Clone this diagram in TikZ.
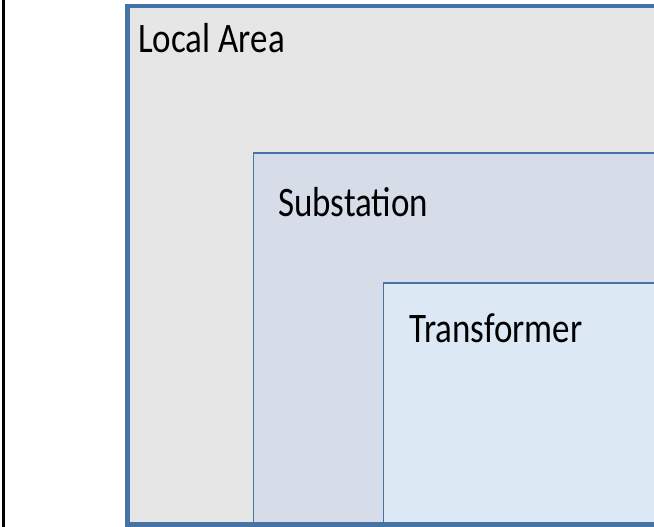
\documentclass[tikz,border=0pt]{standalone}
\usepackage{fontspec}
\setmainfont{Carlito}
\definecolor{frameblue}{HTML}{4673A6}
\definecolor{areagray}{HTML}{E6E6E6}
\definecolor{subfill}{HTML}{D6DDE8}
\definecolor{trafofill}{HTML}{DDE8F5}
\tikzset{
  levellabel/.style={anchor=base west, inner sep=0pt, font=\fontsize{35}{40}\selectfont,
    yscale=1.2, transform shape},
}
\begin{document}
\begin{tikzpicture}[x=1pt,y=-1pt]
  \useasboundingbox (0,0) rectangle (654,527);
  \fill[white] (0,0) rectangle (654,527);
  % left rule
  \draw[black, line width=3pt] (3,0) -- (3,527);
  \begin{scope}
    \clip (0,0) rectangle (654,527);
    % nested levels
    \fill[areagray] (127.5,6) rectangle (700,524.5);
    \filldraw[fill=subfill, draw=frameblue, line width=1.6pt] (253.5,153) rectangle (720,560);
    \filldraw[fill=trafofill, draw=frameblue, line width=1.6pt] (383.5,283) rectangle (720,560);
    \draw[frameblue, line width=4.5pt] (127.5,6) rectangle (700,524.5);
  \end{scope}
  \node[levellabel] (area) at (138,53) {Local Area};
  \node[levellabel] (sub) at (278,216) {Substation};
  \node[levellabel] (trafo) at (409,342) {Transformer};
\end{tikzpicture}
\end{document}
